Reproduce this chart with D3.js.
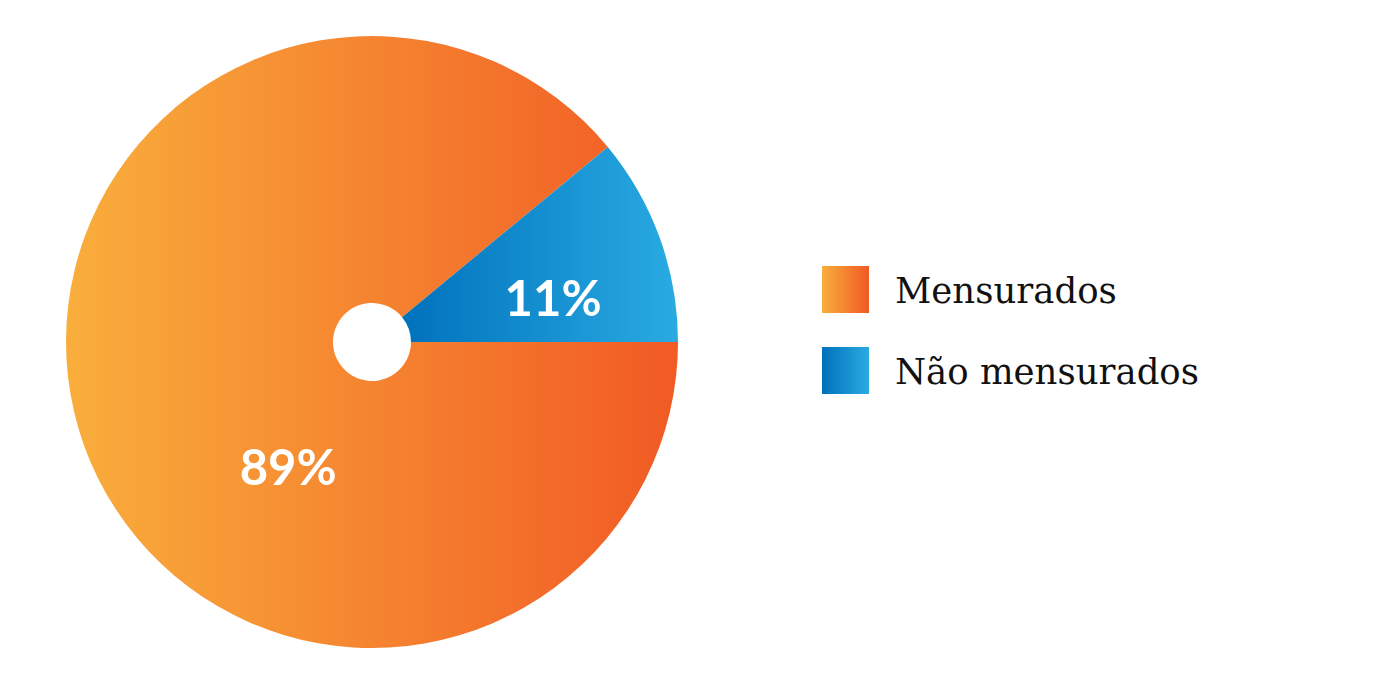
<!DOCTYPE html>
<html><head><meta charset="utf-8">
<script src="https://cdn.jsdelivr.net/npm/d3@7"></script>
<style>html,body{margin:0;padding:0;background:#fff;}svg{display:block;}</style>
</head><body>
<svg id="chart" width="1400" height="685"></svg>
<script>
const categories = ["Mensurados", "Não mensurados"];
const values = [89, 11];
const labels = ["89%", "11%"];

const W = 1400, H = 685;
const cx = 372, cy = 342, R = 306, r0 = 39;
const svg = d3.select("#chart");
svg.append("rect").attr("width", W).attr("height", H).attr("fill", "#fff");

const defs = svg.append("defs");
function grad(id, x1, x2, c1, c2, units) {
  const g = defs.append("linearGradient").attr("id", id)
    .attr("x1", x1).attr("x2", x2).attr("y1", 0).attr("y2", 0);
  if (units) g.attr("gradientUnits", units);
  g.append("stop").attr("offset", "0").attr("stop-color", c1);
  g.append("stop").attr("offset", "1").attr("stop-color", c2);
}
// gradients in the pie group's local coordinates (centre at 0,0)
grad("gOrange", -R, R, "#F9AE3C", "#F15A24", "userSpaceOnUse");
grad("gBlue", 28, R, "#0071BC", "#29ABE2", "userSpaceOnUse");
grad("lgOrange", "0", "1", "#F9AE3C", "#F15A24");
grad("lgBlue", "0", "1", "#0071BC", "#29ABE2");
const fills = ["url(#gOrange)", "url(#gBlue)"];
const legendFills = ["url(#lgOrange)", "url(#lgBlue)"];

const pie = d3.pie().sort(null).startAngle(Math.PI / 2).endAngle(Math.PI / 2 + 2 * Math.PI);
const arcs = pie(values);
const arc = d3.arc().innerRadius(r0).outerRadius(R);

const g = svg.append("g").attr("transform", `translate(${cx},${cy})`);
g.selectAll("path").data(arcs).enter().append("path")
  .attr("d", arc).attr("fill", (d, i) => fills[i]);

// label placement (angle in degrees from 12 o'clock clockwise, radius fraction)
const labelPos = [{a: 214, rf: 0.49}, {a: 76, rf: 0.61}];
g.selectAll("text.lbl").data(arcs).enter().append("text")
  .attr("class", "lbl")
  .attr("x", (d, i) => Math.sin(labelPos[i].a * Math.PI / 180) * R * labelPos[i].rf)
  .attr("y", (d, i) => -Math.cos(labelPos[i].a * Math.PI / 180) * R * labelPos[i].rf)
  .attr("text-anchor", "middle").attr("dominant-baseline", "central")
  .attr("font-family", "Lato, sans-serif").attr("font-weight", "bold")
  .attr("font-size", 49).attr("fill", "#fff")
  .text((d, i) => labels[i]);

const legend = svg.append("g").attr("transform", "translate(822,266)");
const li = legend.selectAll("g").data(categories).enter().append("g")
  .attr("transform", (d, i) => `translate(0,${i * 81})`);
li.append("rect").attr("width", 47).attr("height", 47).attr("fill", (d, i) => legendFills[i]);
li.append("text").attr("x", 73).attr("y", 37)
  .attr("font-family", "'DejaVu Serif', serif").attr("font-size", 35.5)
  .attr("fill", "#111").text(d => d);
</script>
</body></html>
